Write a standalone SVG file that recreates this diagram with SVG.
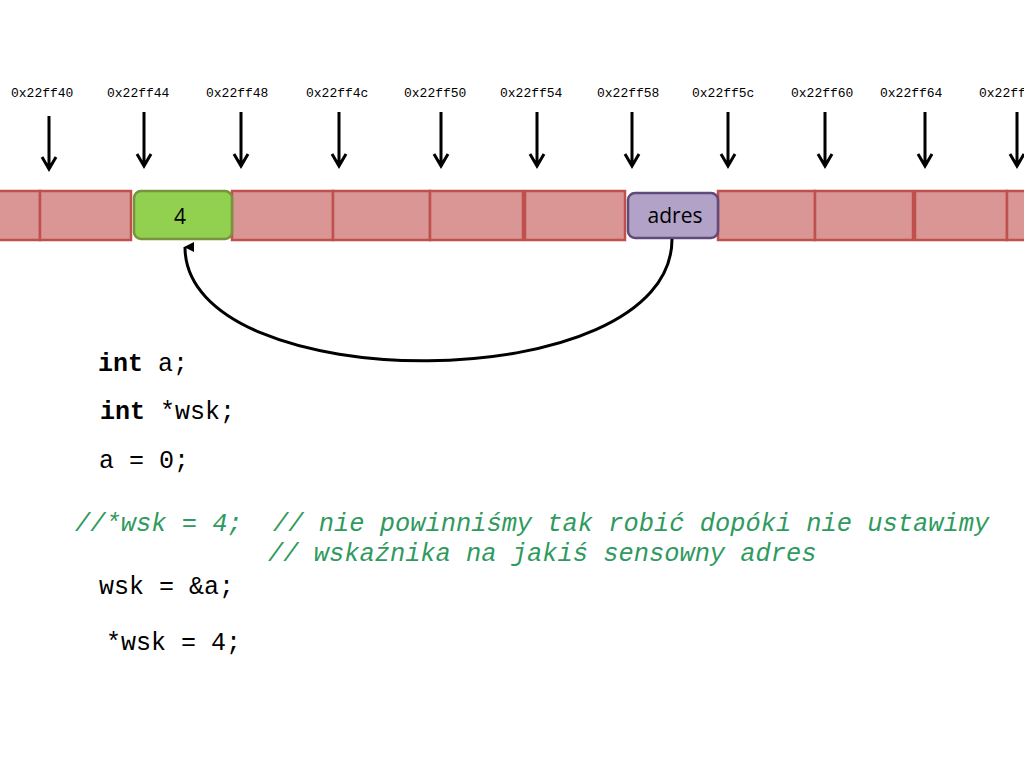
<svg xmlns="http://www.w3.org/2000/svg" width="1024" height="768" viewBox="0 0 1024 768">
<style>
.cell{fill:#D99694;stroke:#C0504D;stroke-width:2.5}
.addr{font-family:"Liberation Mono",monospace;font-size:13px;fill:#000}
.ptr{stroke:#000;stroke-width:3;fill:none}
.code{font-family:"Liberation Mono",monospace;font-size:25px;fill:#000}
.cmt{font-family:"Liberation Mono",monospace;font-size:25.4px;font-style:italic;fill:#2F9A5E}
.val{font-family:"Open Sans","Liberation Sans",sans-serif;font-size:21px;fill:#000;text-anchor:middle}
</style>
<defs>
<marker id="ah" viewBox="0 0 10 10" refX="5" refY="1" markerWidth="10" markerHeight="10" markerUnits="userSpaceOnUse" orient="auto-start-reverse">
<path d="M0,10 L5,0 L10,10 Z" fill="#000"/>
</marker>
</defs>
<rect width="1024" height="768" fill="#fff"/>
<g id="labels">
<text class="addr" x="11" y="97">0x22ff40</text>
<text class="addr" x="107" y="97">0x22ff44</text>
<text class="addr" x="206" y="97">0x22ff48</text>
<text class="addr" x="306" y="97">0x22ff4c</text>
<text class="addr" x="404" y="97">0x22ff50</text>
<text class="addr" x="500" y="97">0x22ff54</text>
<text class="addr" x="597" y="97">0x22ff58</text>
<text class="addr" x="692" y="97">0x22ff5c</text>
<text class="addr" x="791" y="97">0x22ff60</text>
<text class="addr" x="880" y="97">0x22ff64</text>
<text class="addr" x="979" y="97">0x22ff68</text>
</g>
<g id="pointers">
<path class="ptr" d="M49,116 V169 M42,157 L49,169 L56,157"/>
<path class="ptr" d="M144,112 V166 M137,154 L144,166 L151,154"/>
<path class="ptr" d="M241,112 V166 M234,154 L241,166 L248,154"/>
<path class="ptr" d="M339,112 V166 M332,154 L339,166 L346,154"/>
<path class="ptr" d="M441,112 V166 M434,154 L441,166 L448,154"/>
<path class="ptr" d="M537,112 V166 M530,154 L537,166 L544,154"/>
<path class="ptr" d="M632,112 V166 M625,154 L632,166 L639,154"/>
<path class="ptr" d="M728,112 V166 M721,154 L728,166 L735,154"/>
<path class="ptr" d="M825,112 V166 M818,154 L825,166 L832,154"/>
<path class="ptr" d="M925,112 V166 M918,154 L925,166 L932,154"/>
<path class="ptr" d="M1017,112 V166 M1010,154 L1017,166 L1024,154"/>
</g>
<g id="memory">
<rect class="cell" x="-5" y="191" width="45" height="49"/>
<rect class="cell" x="40" y="191" width="91" height="49"/>
<rect class="cell" x="232" y="191" width="101" height="49"/>
<rect class="cell" x="333" y="191" width="97" height="49"/>
<rect class="cell" x="430" y="191" width="93" height="49"/>
<rect class="cell" x="525" y="191" width="100" height="49"/>
<rect class="cell" x="718" y="191" width="97" height="49"/>
<rect class="cell" x="815" y="191" width="98" height="49"/>
<rect class="cell" x="915" y="191" width="92" height="49"/>
<rect class="cell" x="1007" y="191" width="25" height="49"/>
</g>
<g id="node-a">
<rect x="134" y="191" width="98" height="48" rx="7" fill="#92D050" stroke="#77933C" stroke-width="2.5"/>
<text class="val" x="180" y="224">4</text>
</g>
<g id="node-wsk">
<rect x="628" y="193" width="90" height="45" rx="7" fill="#B3A2C7" stroke="#604A7B" stroke-width="2.5"/>
<text class="val" x="675" y="223">adres</text>
</g>
<g id="connectors">
<path d="M672,239 C672,400 185,400 185,247" fill="none" stroke="#000" stroke-width="3" marker-end="url(#ah)"/>
</g>
<g id="code">
<text class="code" x="98" y="371"><tspan font-weight="bold">int</tspan> a;</text>
<text class="code" x="100" y="419"><tspan font-weight="bold">int</tspan> *wsk;</text>
<text class="code" x="99" y="468">a = 0;</text>
<text class="cmt" x="75" y="531" xml:space="preserve">//*wsk = 4;  // nie powinniśmy tak robić dopóki nie ustawimy</text>
<text class="cmt" x="268" y="561">// wskaźnika na jakiś sensowny adres</text>
<text class="code" x="99" y="594">wsk = &amp;a;</text>
<text class="code" x="106" y="650">*wsk = 4;</text>
</g>
</svg>
